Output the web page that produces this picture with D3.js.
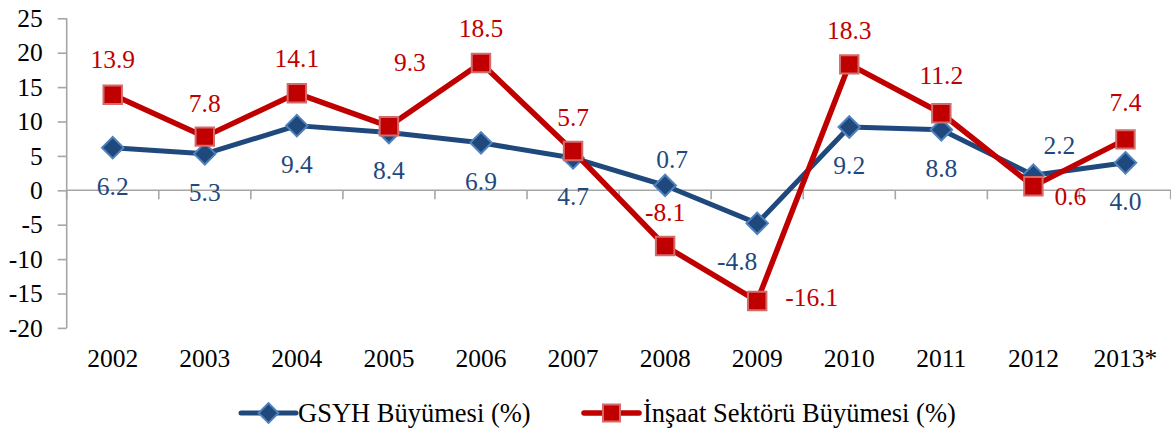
<!DOCTYPE html>
<html>
<head>
<meta charset="utf-8">
<script src="https://cdn.jsdelivr.net/npm/d3@7"></script>
<style>
  html, body { margin: 0; padding: 0; background: #fff; }
  svg text { font-family: "Liberation Serif", "DejaVu Serif", serif; }
</style>
</head>
<body>
<div id="container"></div>
<script>
const years = ['2002', '2003', '2004', '2005', '2006', '2007', '2008', '2009', '2010', '2011', '2012', '2013*'];
const gdpGrowth = [6.2, 5.3, 9.4, 8.4, 6.9, 4.7, 0.7, -4.8, 9.2, 8.8, 2.2, 4.0];
const constructionGrowth = [13.9, 7.8, 14.1, 9.3, 18.5, 5.7, -8.1, -16.1, 18.3, 11.2, 0.6, 7.4];
const yTicks = [-20, -15, -10, -5, 0, 5, 10, 15, 20, 25];

// label placement per point (Excel-like: above / below / right, with a few nudges)
const gdpLabelPos = [
  { dy: 38 }, { dy: 38 }, { dy: 38 }, { dy: 38 }, { dy: 38 }, { dy: 38 },
  { dx: 7, dy: -26 }, { dx: -20, dy: 38 }, { dy: 38 }, { dy: 38 },
  { dx: 26, dy: -30 }, { dy: 38 }
];
const constructionLabelPos = [
  { dy: -36 }, { dy: -34 }, { dy: -35 }, { dx: 21, dy: -64 }, { dy: -35 }, { dy: -34 },
  { dy: -34 }, { dx: 28, dy: -4, anchor: 'start' }, { dy: -34 }, { dy: -38 },
  { dx: 21, dy: 10, anchor: 'start' }, { dy: -37 }
];

const w = 1171;
const h = 434;

const svg = d3.select('#container')
  .append('svg')
  .attr('width', w)
  .attr('height', h)
  .attr('viewBox', [0, 0, w, h]);

const x = d3.scaleBand()
  .domain(years)
  .range([66.7, 1171.5]);

const y = d3.scaleLinear()
  .domain([-20, 25])
  .range([327.9, 18.3]);

const axisColor = '#a6a6a6';
const font = '"Liberation Serif", "DejaVu Serif", serif';

// y axis
const yAxis = svg.append('g')
  .attr('transform', 'translate(' + x.range()[0] + ',0)')
  .call(d3.axisLeft(y).tickValues(yTicks).tickSize(9).tickPadding(15).tickFormat(d3.format('d')))
  .attr('font-family', font);

yAxis.select('.domain').attr('stroke', axisColor).attr('stroke-width', 1.6)
  .attr('d', 'M0,' + y(25) + 'V' + y(-20));
yAxis.selectAll('.tick line').attr('stroke', axisColor).attr('stroke-width', 1.6);
yAxis.selectAll('.tick text')
  .attr('fill', '#000')
  .style('font-size', '25.5px')
  .text(d => d < 0 ? '-' + Math.abs(d) : d);

// x axis along zero line, ticks at category boundaries
const xAxis = svg.append('g')
  .attr('transform', 'translate(0,' + y(0) + ')');

xAxis.append('line')
  .attr('x1', x.range()[0])
  .attr('x2', x.range()[1])
  .attr('stroke', axisColor)
  .attr('stroke-width', 1.6);

const boundaries = years.map(d => x(d)).concat([x.range()[1] - 0.8]);
xAxis.selectAll('.xtick')
  .data(boundaries)
  .enter()
  .append('line')
  .attr('class', 'xtick')
  .attr('x1', d => d)
  .attr('x2', d => d)
  .attr('y1', 0)
  .attr('y2', 9)
  .attr('stroke', axisColor)
  .attr('stroke-width', 1.6);

svg.selectAll('.xlabel')
  .data(years)
  .enter()
  .append('text')
  .attr('class', 'xlabel')
  .attr('x', d => x(d) + x.bandwidth() / 2)
  .attr('y', 367)
  .attr('text-anchor', 'middle')
  .style('font-size', '25.5px')
  .attr('fill', '#000')
  .text(d => d);

const cx = d => x(d) + x.bandwidth() / 2;

// diamond = square turned 45 degrees
const diamond = {
  draw(ctx, size) {
    const r = Math.sqrt(size / 2);
    ctx.moveTo(0, -r);
    ctx.lineTo(r, 0);
    ctx.lineTo(0, r);
    ctx.lineTo(-r, 0);
    ctx.closePath();
  }
};

const series = [
  {
    name: 'GSYH Büyümesi (%)', values: gdpGrowth, pos: gdpLabelPos,
    line: '#1f497d', fill: '#1f497d', stroke: '#4f81bd', text: '#1f497d', width: 5, shape: diamond, size: 230
  },
  {
    name: 'İnşaat Sektörü Büyümesi (%)', values: constructionGrowth, pos: constructionLabelPos,
    line: '#c00000', fill: '#c00000', stroke: '#d36b6b', text: '#c00000', width: 5.5, shape: d3.symbolSquare, size: 340
  }
];

const line = d3.line()
  .x((d, i) => cx(years[i]))
  .y(d => y(d));

series.forEach(s => {
  const g = svg.append('g');

  g.append('path')
    .datum(s.values)
    .attr('d', line)
    .attr('fill', 'none')
    .attr('stroke', s.line)
    .attr('stroke-width', s.width)
    .attr('stroke-linejoin', 'round');

  g.selectAll('.marker')
    .data(s.values)
    .enter()
    .append('path')
    .attr('class', 'marker')
    .attr('d', d3.symbol().type(s.shape).size(s.size))
    .attr('transform', (d, i) => 'translate(' + cx(years[i]) + ',' + y(d) + ')')
    .attr('fill', s.fill)
    .attr('stroke', s.stroke)
    .attr('stroke-width', 2);
});

// data labels drawn after all lines
series.forEach(s => {
  svg.selectAll(null)
    .data(s.values)
    .enter()
    .append('text')
    .attr('x', (d, i) => cx(years[i]) + (s.pos[i].dx || 0))
    .attr('y', (d, i) => y(d) + (s.pos[i].dy || 0))
    .attr('dy', '0.35em')
    .attr('text-anchor', (d, i) => s.pos[i].anchor || 'middle')
    .attr('fill', s.text)
    .style('font-size', '25.5px')
    .text(d => d.toFixed(1));
});

// legend
const legendItems = [
  { s: series[0], x0: 241, x1: 296, tx: 298 },
  { s: series[1], x0: 584, x1: 639, tx: 643 }
];
const legendY = 413;

legendItems.forEach(it => {
  const g = svg.append('g');
  g.append('line')
    .attr('x1', it.x0)
    .attr('x2', it.x1)
    .attr('y1', legendY)
    .attr('y2', legendY)
    .attr('stroke', it.s.line)
    .attr('stroke-width', it.s.width)
    .attr('stroke-linecap', 'round');
  g.append('path')
    .attr('d', d3.symbol().type(it.s.shape).size(it.s.size * 0.85))
    .attr('transform', 'translate(' + ((it.x0 + it.x1) / 2) + ',' + legendY + ')')
    .attr('fill', it.s.fill)
    .attr('stroke', it.s.stroke)
    .attr('stroke-width', 2);
  g.append('text')
    .attr('x', it.tx)
    .attr('y', legendY)
    .attr('dy', '0.35em')
    .style('font-size', '26.5px')
    .attr('fill', '#000')
    .text(it.s.name);
});
</script>
</body>
</html>
